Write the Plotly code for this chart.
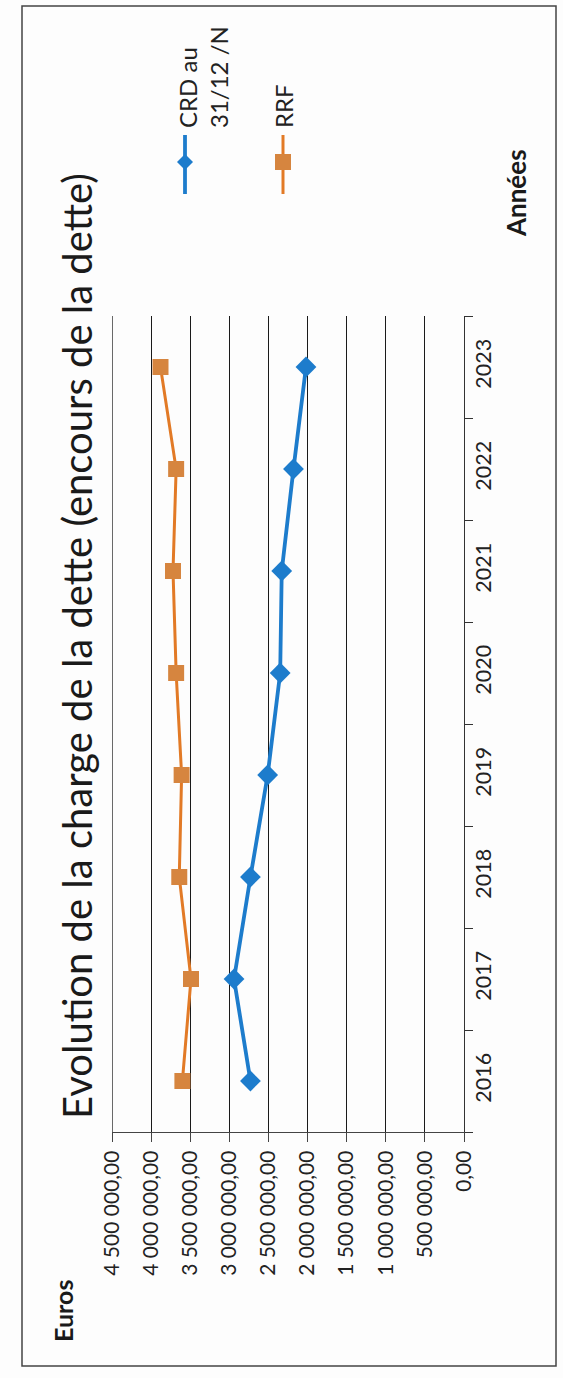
import plotly.graph_objects as go

# Chart data (euros per year)
years = ["2016", "2017", "2018", "2019", "2020", "2021", "2022", "2023"]
crd = [2730000, 2940000, 2730000, 2510000, 2350000, 2330000, 2180000, 2020000]
rrf = [3600000, 3490000, 3640000, 3610000, 3680000, 3720000, 3680000, 3880000]
euro_ticks = [0, 500000, 1000000, 1500000, 2000000, 2500000,
              3000000, 3500000, 4000000, 4500000]
euro_labels = [f"{v:,.2f}".replace(",", " ").replace(".", ",") for v in euro_ticks]

series_names = ["CRD au<br>31/12 /N", "RRF"]
title_text = "Evolution de la charge de la dette (encours de la dette)"

BLUE = "#1d7ccc"
ORANGE_LINE = "#e27a26"
ORANGE_MARK = "#d6853f"
GRID = "#1a1a1a"
FONT = "Lato"

# Page geometry (pixels) and plot-area margins
W, H = 563, 1378
L, R, T, B = 112, 99, 316, 246
PW, PH = W - L - R, H - T - B


def px(x):
    """Page pixel x -> paper fraction."""
    return (x - L) / PW


def py(y):
    """Page pixel y -> paper fraction."""
    return (H - B - y) / PH


fig = go.Figure()
fig.add_trace(go.Scatter(
    x=crd, y=years, mode="lines+markers", name="CRD",
    line=dict(color=BLUE, width=3.8),
    marker=dict(symbol="diamond", size=16, color=BLUE),
))
fig.add_trace(go.Scatter(
    x=rrf, y=years, mode="lines+markers", name="RRF",
    line=dict(color=ORANGE_LINE, width=3),
    marker=dict(symbol="square", size=16, color=ORANGE_MARK),
))

fig.update_layout(
    width=W, height=H,
    margin=dict(l=L, r=R, t=T, b=B),
    paper_bgcolor="#fdfdfd", plot_bgcolor="#fdfdfd",
    showlegend=False,
    font=dict(family=FONT, color="#222"),
    xaxis=dict(
        range=[max(euro_ticks), 0], tickvals=euro_ticks, ticktext=euro_labels,
        tickangle=-90, tickfont=dict(size=21, color="#222"),
        showgrid=True, gridcolor=GRID, gridwidth=1.3,
        showline=True, linecolor="#444", linewidth=1.3,
        ticks="outside", ticklen=9, tickcolor="#444", tickwidth=1.3,
        zeroline=False,
    ),
    yaxis=dict(
        type="category", categoryorder="array", categoryarray=years,
        side="right", tickangle=-90, tickfont=dict(size=21.5, color="#222"),
        showgrid=False, showline=True, linecolor="#333", linewidth=1.3,
        ticks="outside", tickson="boundaries", ticklen=8,
        tickcolor="#333", tickwidth=1.3, zeroline=False,
        range=[-0.5, 7.5],
    ),
)

annotations = [
    dict(text=title_text, x=px(77), y=py(646), textangle=-90,
         font=dict(size=40, color="#1a1a1a")),
    dict(text="<b>Euros</b>", x=px(63), y=py(1311), textangle=-90,
         font=dict(size=25, color="#1a1a1a")),
    dict(text="<b>Années</b>", x=px(516), y=py(193), textangle=-90,
         font=dict(size=26, color="#1a1a1a")),
    dict(text=series_names[0], x=px(203), y=py(130), textangle=-90,
         yanchor="bottom", align="left",
         font=dict(size=24, color="#222")),
    dict(text=series_names[1], x=px(284), y=py(130), textangle=-90,
         yanchor="bottom", align="left",
         font=dict(size=24, color="#222")),
]
for a in annotations:
    a.update(xref="paper", yref="paper", showarrow=False)
    a.setdefault("xanchor", "center")
    a.setdefault("yanchor", "middle")
fig.update_layout(annotations=annotations)

shapes = []
# Gridline on the outer (maximum) value tick at the plot edge
shapes.append(dict(type="line", xref="x", yref="paper",
                   x0=max(euro_ticks), x1=max(euro_ticks), y0=0, y1=1,
                   line=dict(color=GRID, width=1.3)))

# Legend swatches (vertical line with marker) and the page frame
lx_blue, lx_or, ly0, ly1, lym = 185, 283, 135, 194, 162
shapes.append(dict(type="line", x0=px(lx_blue), x1=px(lx_blue), y0=py(ly0), y1=py(ly1),
                   line=dict(color=BLUE, width=3.8)))
d = 8
shapes.append(dict(
    type="path",
    path=(f"M {px(lx_blue)} {py(lym - d)} L {px(lx_blue + d)} {py(lym)} "
          f"L {px(lx_blue)} {py(lym + d)} L {px(lx_blue - d)} {py(lym)} Z"),
    fillcolor=BLUE, line=dict(color=BLUE, width=0)))
shapes.append(dict(type="line", x0=px(lx_or), x1=px(lx_or), y0=py(ly0), y1=py(ly1),
                   line=dict(color=ORANGE_LINE, width=3)))
s = 8
shapes.append(dict(type="rect", x0=px(lx_or - s), x1=px(lx_or + s),
                   y0=py(lym - s), y1=py(lym + s),
                   fillcolor=ORANGE_MARK, line=dict(width=0)))
shapes.append(dict(type="rect", x0=px(22), x1=px(556), y0=py(6), y1=py(1366),
                   line=dict(color="#444", width=1.5), fillcolor="rgba(0,0,0,0)",
                   layer="below"))
for sh in shapes:
    sh.setdefault("xref", "paper")
    sh.setdefault("yref", "paper")
fig.update_layout(shapes=shapes)

fig.write_html("out.html")
